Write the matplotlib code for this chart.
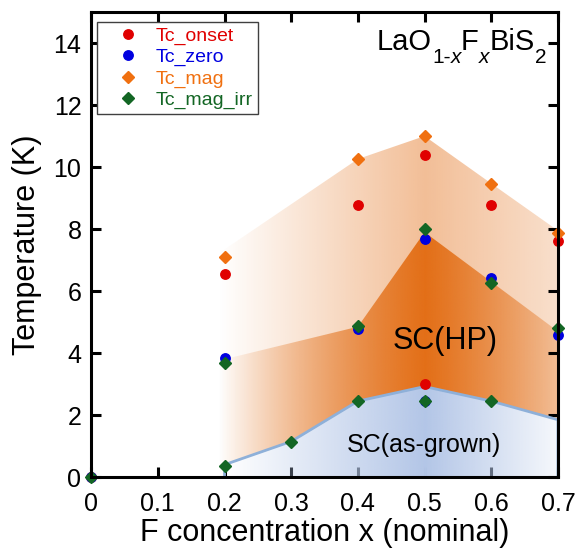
import numpy as np
import matplotlib.pyplot as plt
from matplotlib.patches import Polygon
from matplotlib.colors import to_rgb
from matplotlib.transforms import IdentityTransform

plt.rcParams['font.family'] = ['Liberation Sans', 'DejaVu Sans']

# measured points
onset_x = [0, 0.2, 0.4, 0.5, 0.5, 0.6, 0.7]
onset_y = [0, 6.55, 8.77, 10.39, 2.99, 8.77, 7.62]
zero_x = [0, 0.2, 0.4, 0.5, 0.5, 0.6, 0.7]
zero_y = [0, 3.85, 4.77, 7.67, 2.45, 6.43, 4.58]
mag_x = [0.2, 0.4, 0.5, 0.6, 0.7]
mag_y = [7.09, 10.26, 11.0, 9.47, 7.88]
irr_x = [0, 0.2, 0.2, 0.3, 0.4, 0.4, 0.5, 0.5, 0.6, 0.6, 0.7]
irr_y = [0, 3.67, 0.35, 1.14, 4.88, 2.45, 7.99, 2.45, 6.27, 2.45, 4.8]

# phase boundaries
hp_x = [0.2, 0.4, 0.5, 0.6, 0.7]
hp_outer = [7.2, 10.26, 11.0, 9.47, 7.95]
hp_inner = [3.75, 4.85, 7.9, 6.3, 4.7]
ag_x = [0.2, 0.3, 0.4, 0.5, 0.6, 0.7]
ag_y = [0.4, 1.15, 2.45, 2.92, 2.45, 1.85]


def grad_fill(ax, xs, ys, color, ax_pts, a_pts, x0=0.19, z=1):
    px = [x0] + list(xs) + [xs[-1], x0]
    py = [0] + list(ys) + [0, 0]
    py[1] = ys[0]
    px[1] = x0
    poly = Polygon(np.column_stack([px, py]), closed=True, fc='none', ec='none')
    ax.add_patch(poly)
    gx = np.linspace(x0, xs[-1], 400)
    img = np.zeros((2, len(gx), 4))
    img[..., :3] = to_rgb(color)
    img[..., 3] = np.interp(gx, ax_pts, a_pts)
    im = ax.imshow(img, extent=[x0, xs[-1], 0, 15], origin='lower',
                   aspect='auto', interpolation='bilinear', zorder=z)
    im.set_clip_path(poly)


fig = plt.figure(figsize=(5.77, 5.49), dpi=100)
ax = fig.add_axes([0.158, 0.131, 0.809, 0.847])

orange = '#e36f17'
grad_fill(ax, hp_x, hp_outer, orange, [0.19, 0.5, 0.7], [0.0, 0.45, 0.22])
grad_fill(ax, hp_x, hp_inner, orange, [0.19, 0.5, 0.7], [0.0, 1.0, 0.3])

# as-grown region: white base then blue gradient
ax.fill_between(ag_x, 0, ag_y, color='white', lw=0, zorder=1.5)
grad_fill(ax, ag_x, ag_y, '#b3c6e7', [0.2, 0.5, 0.7], [0.0, 1.0, 0.12], x0=0.2, z=1.6)
ax.plot([ag_x[0]] + ag_x + [ag_x[-1]], [0] + ag_y + [0], color='#8eb0d9', lw=2, zorder=1.7)

ms = 6.8
ax.plot(onset_x, onset_y, 'o', color='#e00000', ms=ms, ls='none', clip_on=False, zorder=3, label='Tc_onset')
ax.plot(zero_x, zero_y, 'o', color='#0000e0', ms=ms, ls='none', clip_on=False, zorder=3, label='Tc_zero')
ax.plot(mag_x, mag_y, 'D', color='#f07010', ms=5.8, ls='none', clip_on=False, zorder=3, label='Tc_mag')
ax.plot(irr_x, irr_y, 'D', color='#136624', ms=5.8, ls='none', clip_on=False, zorder=3, label='Tc_mag_irr')

ax.set_xlim(0, 0.7)
ax.set_ylim(0, 15)
ax.set_xticks(np.arange(0, 0.71, 0.1))
ax.set_xticklabels(['0', '0.1', '0.2', '0.3', '0.4', '0.5', '0.6', '0.7'])
ax.set_yticks(range(0, 15, 2))
ax.tick_params(direction='in', length=7, width=2.2, labelsize=18, top=True, right=True)
ax.tick_params(axis='x', pad=11)
ax.tick_params(axis='y', pad=7)
for s in ax.spines.values():
    s.set_linewidth(2.2)
    s.set_zorder(4)

ax.set_xlabel('F concentration x (nominal)', fontsize=22, labelpad=1)
ax.set_ylabel('Temperature (K)', fontsize=22, labelpad=8)

ax.text(0.531, 4.39, 'SC(HP)', fontsize=22, ha='center', va='center', zorder=5)
ax.text(0.4995, 1.03, 'SC(as-grown)', fontsize=18, ha='center', va='center', zorder=5)

# formula label, pieced together in pixels
r = fig.canvas.get_renderer()
pieces = [('LaO', 21, 0, 'normal'), ('1-', 15, -13, 'normal'), ('x', 15, -13, 'italic'),
          ('F', 21, 0, 'normal'), ('x', 15, -13, 'italic'), ('BiS', 21, 0, 'normal'),
          ('2', 15, -13, 'normal')]
px, base = 377, 549 - 50
for s, size, dy, style in pieces:
    t = fig.text(px, base + dy, s, fontsize=size, style=style, transform=IdentityTransform(),
                 va='baseline', ha='left', zorder=5)
    px = t.get_window_extent(r).x1

leg = ax.legend(loc='upper left', bbox_to_anchor=(0.013, 0.978), fontsize=14, fancybox=False,
                edgecolor='#404040', framealpha=1, handletextpad=0.1, borderpad=0.25,
                labelspacing=0.18, handlelength=2.65, borderaxespad=0)
leg.get_frame().set_linewidth(1)
for t, c in zip(leg.get_texts(), ['#e00000', '#0000e0', '#f07010', '#136624']):
    t.set_color(c)

plt.savefig('out.png', dpi=100)
